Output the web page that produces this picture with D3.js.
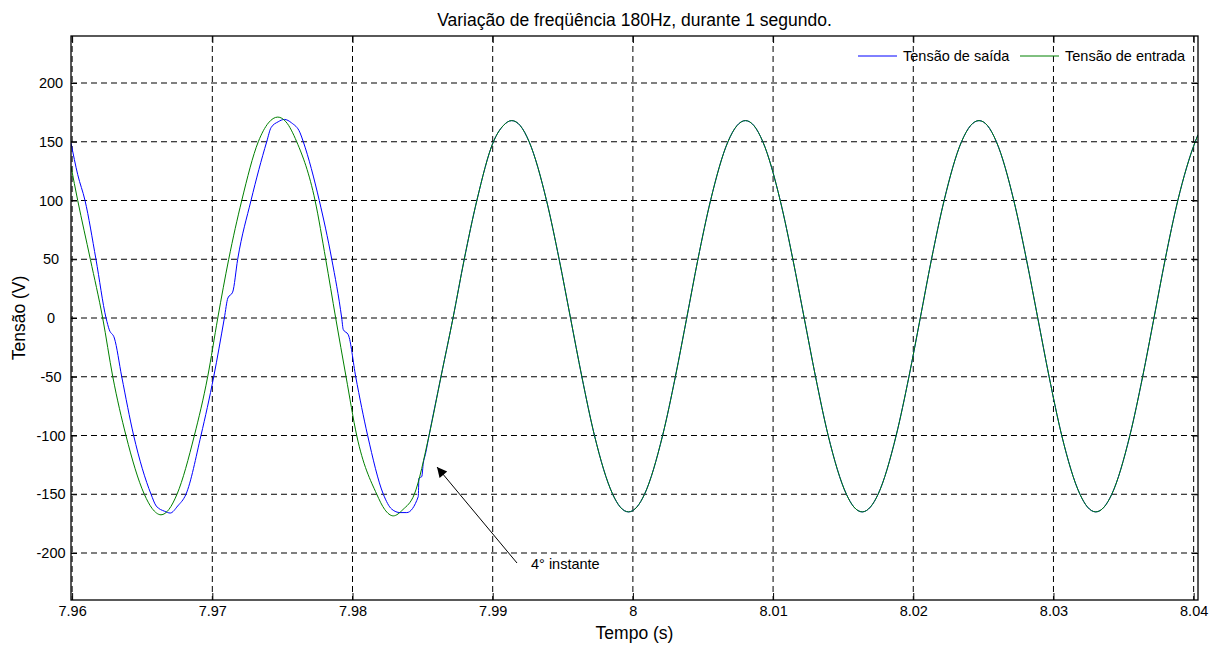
<!DOCTYPE html>
<html>
<head>
<meta charset="utf-8">
<script src="https://cdn.jsdelivr.net/npm/d3@7"></script>
<style>
  body { margin: 0; background: #fff; }
  svg { display: block; }
</style>
</head>
<body>
<div id="container"></div>
<script>
// ---- data ----
const timeTicks = [7.96, 7.97, 7.98, 7.99, 8.00, 8.01, 8.02, 8.03, 8.04];
const timeTickLabels = ["7.96", "7.97", "7.98", "7.99", "8", "8.01", "8.02", "8.03", "8.04"];
const voltTicks = [-200, -150, -100, -50, 0, 50, 100, 150, 200];
const voltTickLabels = ["-200", "-150", "-100", "-50", "0", "50", "100", "150", "200"];
const seriesNames = ["Tensão de saída", "Tensão de entrada"];

// input voltage, before the two curves join
const entradaEarlyT = [7.95992, 7.96040, 7.96130, 7.96218, 7.96290, 7.96384, 7.96515, 7.96570, 7.96634, 7.96690,
  7.96748, 7.96872, 7.96967, 7.97039, 7.97117, 7.97210, 7.97328, 7.97400, 7.97467, 7.97525,
  7.97602, 7.97733, 7.97809, 7.97880, 7.97954, 7.98030, 7.98173, 7.98230, 7.98291, 7.98360,
  7.98441];
const entradaEarlyV = [129, 100, 50, 0, -50, -100, -150, -162, -167.5, -163,
  -150, -100, -50, 0, 50, 100, 150, 166, 171, 167,
  150, 100, 50, 0, -50, -100, -150, -163, -168.4, -163,
  -150];

// output voltage, before the two curves join
const saidaEarlyT = [7.95992, 7.96040, 7.96092, 7.96170, 7.96242, 7.96265, 7.96301, 7.96354, 7.96439, 7.96563,
  7.96600, 7.96660, 7.96700, 7.96753, 7.96812, 7.96919, 7.97010, 7.97086, 7.97111, 7.97145,
  7.97181, 7.97276, 7.97388, 7.97419, 7.97470, 7.97514, 7.97566, 7.97626, 7.97649, 7.97763,
  7.97852, 7.97923, 7.97934, 7.97970, 7.98023, 7.98108, 7.98220, 7.98280, 7.98339, 7.98387,
  7.98469, 7.98474, 7.98494, 7.98505, 7.98520];
const saidaEarlyV = [149, 122, 100, 50, 0, -10, -17, -50, -100, -150,
  -160, -164.5, -166, -160, -150, -100, -50, 0, 17, 22,
  50, 100, 150, 162, 167, 169, 166, 157.6, 150, 100,
  50, 0, -9.8, -14.3, -50, -100, -150, -162.7, -165.6, -165.6,
  -152, -136.3, -135, -123.5, -116];

// after the 4th instant both traces lie on top of each other
const commonT = [7.98546, 7.98631, 7.98717, 7.98797, 7.98887, 7.99005, 7.99076, 7.99136, 7.99196, 7.99260,
  7.99384, 7.99474, 7.99555, 7.99636, 7.99726, 7.99856, 7.99909, 7.99969, 8.00029, 8.00083,
  8.00212, 8.00303, 8.00384, 8.00464, 8.00554, 8.00678, 8.00743, 8.00803, 8.00863, 8.00927,
  8.01051, 8.01141, 8.01222, 8.01303, 8.01393, 8.01523, 8.01576, 8.01636, 8.01695, 8.01749,
  8.01878, 8.01969, 8.02050, 8.02130, 8.02220, 8.02344, 8.02409, 8.02469, 8.02529, 8.02593,
  8.02717, 8.02807, 8.02888, 8.02969, 8.03059, 8.03189, 8.03242, 8.03302, 8.03362, 8.03416,
  8.03545, 8.03636, 8.03717, 8.03797, 8.03887, 8.04011, 8.04031];
const commonV = [-100, -50, 0, 50, 100, 150, 163.8, 168, 163.8, 150,
  100, 50, 0, -50, -100, -150, -160.8, -165, -160.8, -150,
  -100, -50, 0, 50, 100, 150, 163.8, 168, 163.8, 150,
  100, 50, 0, -50, -100, -150, -160.8, -165, -160.8, -150,
  -100, -50, 0, 50, 100, 150, 163.8, 168, 163.8, 150,
  100, 50, 0, -50, -100, -150, -160.8, -165, -160.8, -150,
  -100, -50, 0, 50, 100, 150, 156];

// ---- layout ----
const W = 1222, H = 645;
const plot = { left: 71, right: 1198, top: 36, bottom: 600 };
const font = "'Liberation Sans', Arial, Helvetica, sans-serif";

const svg = d3.select("#container")
  .append("svg")
    .attr("width", W)
    .attr("height", H)
    .attr("font-family", font);

const x = d3.scaleLinear()
  .domain([7.95992, 8.04031])
  .range([plot.left, plot.right]);

const y = d3.scaleLinear()
  .domain([-240, 240])
  .range([plot.bottom, plot.top]);

// clip for the traces
svg.append("clipPath")
    .attr("id", "clip")
  .append("rect")
    .attr("x", plot.left)
    .attr("y", plot.top)
    .attr("width", plot.right - plot.left)
    .attr("height", plot.bottom - plot.top);

// dashed grid
const grid = svg.append("g")
    .attr("stroke", "#000")
    .attr("stroke-width", 1)
    .attr("stroke-dasharray", "6,4");

grid.selectAll("line.v")
  .data(timeTicks)
  .join("line")
    .attr("class", "v")
    .attr("x1", d => x(d))
    .attr("x2", d => x(d))
    .attr("y1", plot.top)
    .attr("y2", plot.bottom);

grid.selectAll("line.h")
  .data(voltTicks)
  .join("line")
    .attr("class", "h")
    .attr("x1", plot.left)
    .attr("x2", plot.right)
    .attr("y1", d => y(d))
    .attr("y2", d => y(d));

// traces
const saida = saidaEarlyT.map((t, i) => [t, saidaEarlyV[i]])
  .concat(commonT.map((t, i) => [t, commonV[i]]));
const entrada = entradaEarlyT.map((t, i) => [t, entradaEarlyV[i]])
  .concat(commonT.map((t, i) => [t, commonV[i]]));

const line = d3.line()
    .x(d => x(d[0]))
    .y(d => y(d[1]))
    .curve(d3.curveMonotoneX);

const traces = svg.append("g").attr("clip-path", "url(#clip)");

traces.append("path")
    .datum(saida)
    .attr("d", line)
    .attr("fill", "none")
    .attr("stroke", "#0000ff")
    .attr("stroke-width", 1);

traces.append("path")
    .datum(entrada)
    .attr("d", line)
    .attr("fill", "none")
    .attr("stroke", "#008000")
    .attr("stroke-width", 1);

// axes, ticks pointing inward like matlab
const labelSize = "14.5px";
const titleSize = "17.5px";

const xAxis = svg.append("g")
    .attr("transform", `translate(0,${plot.bottom})`)
    .call(d3.axisBottom(x)
      .tickValues(timeTicks)
      .tickFormat((d, i) => timeTickLabels[i])
      .tickSizeInner(-7)
      .tickSizeOuter(0)
      .tickPadding(6));

svg.append("g")
    .attr("transform", `translate(0,${plot.top})`)
    .call(d3.axisTop(x)
      .tickValues(timeTicks)
      .tickFormat("")
      .tickSizeInner(-7)
      .tickSizeOuter(0));

const yAxis = svg.append("g")
    .attr("transform", `translate(${plot.left},0)`)
    .call(d3.axisLeft(y)
      .tickValues(voltTicks)
      .tickFormat((d, i) => voltTickLabels[i])
      .tickSizeInner(-6)
      .tickSizeOuter(0));

svg.append("g")
    .attr("transform", `translate(${plot.right},0)`)
    .call(d3.axisRight(y)
      .tickValues(voltTicks)
      .tickFormat("")
      .tickSizeInner(-6)
      .tickSizeOuter(0));

svg.selectAll(".domain").remove();
svg.selectAll(".tick line").attr("stroke", "#000");

xAxis.selectAll("text")
    .attr("font-size", labelSize)
    .attr("font-family", font)
    .attr("fill", "#000");

yAxis.selectAll("text")
    .attr("font-size", labelSize)
    .attr("font-family", font)
    .attr("fill", "#000")
    .attr("text-anchor", "middle")
    .attr("x", -20);

// frame
svg.append("rect")
    .attr("x", plot.left)
    .attr("y", plot.top)
    .attr("width", plot.right - plot.left)
    .attr("height", plot.bottom - plot.top)
    .attr("fill", "none")
    .attr("stroke", "#000")
    .attr("stroke-width", 1.3);

// title and axis labels
svg.append("text")
    .text("Variação de freqüência 180Hz, durante 1 segundo.")
    .attr("x", (plot.left + plot.right) / 2)
    .attr("y", 26)
    .attr("text-anchor", "middle")
    .attr("font-size", titleSize);

svg.append("text")
    .text("Tempo (s)")
    .attr("x", (plot.left + plot.right) / 2)
    .attr("y", 639)
    .attr("text-anchor", "middle")
    .attr("font-size", titleSize);

svg.append("text")
    .text("Tensão (V)")
    .attr("transform", `translate(25,${(plot.top + plot.bottom) / 2}) rotate(-90)`)
    .attr("text-anchor", "middle")
    .attr("font-size", titleSize);

// legend
const legendColors = ["#0000ff", "#008000"];
const legendX = [858, 1020];
const legend = svg.append("g");
seriesNames.forEach((name, i) => {
  legend.append("line")
      .attr("x1", legendX[i])
      .attr("x2", legendX[i] + 39)
      .attr("y1", 56)
      .attr("y2", 56)
      .attr("stroke", legendColors[i])
      .attr("stroke-width", 1);
  legend.append("text")
      .text(name)
      .attr("x", legendX[i] + 45)
      .attr("y", 61)
      .attr("font-size", labelSize);
});

// annotation arrow
svg.append("defs").append("marker")
    .attr("id", "arrow")
    .attr("viewBox", "0 0 10 10")
    .attr("refX", 10)
    .attr("refY", 5)
    .attr("markerWidth", 14)
    .attr("markerHeight", 10)
    .attr("markerUnits", "userSpaceOnUse")
    .attr("orient", "auto")
  .append("path")
    .attr("d", "M0,0 L10,5 L0,10 Z")
    .attr("fill", "#000");

svg.append("line")
    .attr("x1", 517)
    .attr("y1", 563)
    .attr("x2", 437)
    .attr("y2", 467)
    .attr("stroke", "#000")
    .attr("stroke-width", 1)
    .attr("marker-end", "url(#arrow)");

svg.append("text")
    .text("4° instante")
    .attr("x", 531)
    .attr("y", 569)
    .attr("font-size", labelSize);
</script>
</body>
</html>
